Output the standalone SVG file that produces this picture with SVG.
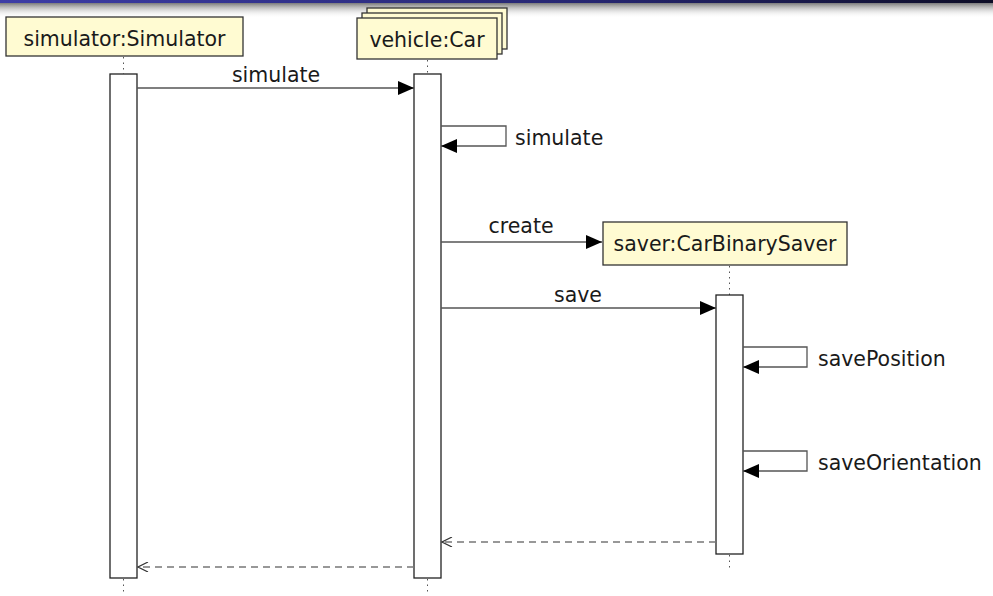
<svg xmlns="http://www.w3.org/2000/svg" width="993" height="596" viewBox="0 0 993 596">
  <defs>
    <linearGradient id="bar" x1="0" y1="0" x2="1" y2="0">
      <stop offset="0" stop-color="#3d3da6"/>
      <stop offset="0.6" stop-color="#262670"/>
      <stop offset="1" stop-color="#0d0d26"/>
    </linearGradient>
    <linearGradient id="shade" x1="0" y1="0" x2="0" y2="1">
      <stop offset="0" stop-color="#7a7a7a"/>
      <stop offset="1" stop-color="#ffffff" stop-opacity="0"/>
    </linearGradient>
    <marker id="filled" viewBox="0 0 16 14" refX="16" refY="7" markerWidth="16" markerHeight="14" markerUnits="userSpaceOnUse" orient="auto">
      <path d="M0,0 L16,7 L0,14 Z" fill="#000"/>
    </marker>
    <marker id="open" viewBox="0 0 12 10" refX="11" refY="5" markerWidth="12" markerHeight="10" markerUnits="userSpaceOnUse" orient="auto">
      <path d="M1,0 L11,5 L1,10" fill="none" stroke="#333" stroke-width="1.2"/>
    </marker>
  </defs>
  <style>
    text { font-family: "DejaVu Sans", "Liberation Sans", sans-serif; font-size: 20.5px; fill: #1a1a1a; }
    .obj { fill: #fffbd2; stroke: #333; stroke-width: 1.3; }
    .act { fill: #fff; stroke: #222; stroke-width: 1.3; }
    .life { stroke: #555; stroke-width: 1; stroke-dasharray: 1.5 4; fill: none; }
    .msg { stroke: #555; stroke-width: 1.3; fill: none; }
    .ret { stroke: #777; stroke-width: 1.3; stroke-dasharray: 7 5; fill: none; }
  </style>

  <rect width="993" height="596" fill="#fff"/>
  <!-- header band -->
  <rect x="0" y="3" width="993" height="15" fill="url(#shade)"/>
  <rect x="0" y="0" width="993" height="3" fill="url(#bar)"/>

  <!-- simulator lifeline -->
  <g id="simulator">
    <rect class="obj" x="6" y="17" width="237" height="39"/>
    <text x="124.5" y="46" text-anchor="middle">simulator:Simulator</text>
    <line class="life" x1="123.5" y1="57" x2="123.5" y2="74"/>
    <rect class="act" x="110" y="74" width="27" height="504"/>
    <line class="life" x1="123.5" y1="579" x2="123.5" y2="594"/>
  </g>

  <!-- vehicle lifeline (multi-object) -->
  <g id="vehicle">
    <rect class="obj" x="367" y="8" width="140" height="41"/>
    <rect class="obj" x="362" y="13" width="140" height="41"/>
    <rect class="obj" x="357" y="18" width="140" height="41"/>
    <text x="427" y="47" text-anchor="middle">vehicle:Car</text>
    <line class="life" x1="427.5" y1="60" x2="427.5" y2="74"/>
    <rect class="act" x="414" y="74" width="27" height="504"/>
    <line class="life" x1="427.5" y1="579" x2="427.5" y2="594"/>
  </g>

  <!-- saver lifeline -->
  <g id="saver">
    <rect class="obj" x="603" y="222" width="244" height="43"/>
    <text x="725" y="251" text-anchor="middle">saver:CarBinarySaver</text>
    <line class="life" x1="729.5" y1="266" x2="729.5" y2="295"/>
    <rect class="act" x="716" y="295" width="27" height="259"/>
    <line class="life" x1="729.5" y1="555" x2="729.5" y2="569"/>
  </g>

  <!-- messages -->
  <g id="connectors">
    <line class="msg" x1="137" y1="88" x2="414" y2="88" marker-end="url(#filled)"/>
    <text x="276" y="82" text-anchor="middle">simulate</text>

    <polyline class="msg" points="441,126 506,126 506,146 441,146" marker-end="url(#filled)"/>
    <text x="515" y="145">simulate</text>

    <line class="msg" x1="441" y1="242" x2="602" y2="242" marker-end="url(#filled)"/>
    <text x="521" y="233" text-anchor="middle">create</text>

    <line class="msg" x1="441" y1="308" x2="716" y2="308" marker-end="url(#filled)"/>
    <text x="578" y="302" text-anchor="middle">save</text>

    <polyline class="msg" points="743,347 807,347 807,367 743,367" marker-end="url(#filled)"/>
    <text x="818" y="366">savePosition</text>

    <polyline class="msg" points="743,451 807,451 807,471 743,471" marker-end="url(#filled)"/>
    <text x="818" y="470">saveOrientation</text>

    <line class="ret" x1="716" y1="542" x2="442" y2="542" marker-end="url(#open)"/>
    <line class="ret" x1="414" y1="567" x2="138" y2="567" marker-end="url(#open)"/>
  </g>
</svg>
